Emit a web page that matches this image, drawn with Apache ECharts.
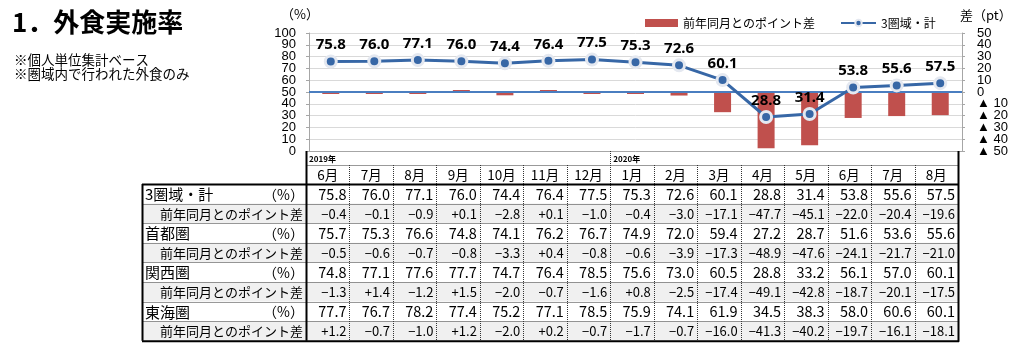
<!DOCTYPE html>
<html>
<head>
<meta charset="utf-8">
<script src="https://cdn.jsdelivr.net/npm/echarts@6/dist/echarts.min.js"></script>
<style>
  html, body { margin: 0; padding: 0; background: #fff; }
  #chart { width: 1024px; height: 350px; }
</style>
</head>
<body>
<div id="chart"></div>
<script>
// Month categories (June 2019 – August 2020)
const months = ['6月','7月','8月','9月','10月','11月','12月','1月','2月','3月','4月','5月','6月','7月','8月'];
const yearMarks = [{ index: 0, text: '2019年' }, { index: 7, text: '2020年' }];

// 3 regions total: dining-out rate (%) and change vs same month last year (pt)
const total     = [75.8, 76.0, 77.1, 76.0, 74.4, 76.4, 77.5, 75.3, 72.6, 60.1, 28.8, 31.4, 53.8, 55.6, 57.5];
const totalDiff = [-0.4, -0.1, -0.9, 0.1, -2.8, 0.1, -1.0, -0.4, -3.0, -17.1, -47.7, -45.1, -22.0, -20.4, -19.6];

// Regional breakdown
const shutoken     = [75.7, 75.3, 76.6, 74.8, 74.1, 76.2, 76.7, 74.9, 72.0, 59.4, 27.2, 28.7, 51.6, 53.6, 55.6];
const shutokenDiff = [-0.5, -0.6, -0.7, -0.8, -3.3, 0.4, -0.8, -0.6, -3.9, -17.3, -48.9, -47.6, -24.1, -21.7, -21.0];
const kansai       = [74.8, 77.1, 77.6, 77.7, 74.7, 76.4, 78.5, 75.6, 73.0, 60.5, 28.8, 33.2, 56.1, 57.0, 60.1];
const kansaiDiff   = [-1.3, 1.4, -1.2, 1.5, -2.0, -0.7, -1.6, 0.8, -2.5, -17.4, -49.1, -42.8, -18.7, -20.1, -17.5];
const tokai        = [77.7, 76.7, 78.2, 77.4, 75.2, 77.1, 78.5, 75.9, 74.1, 61.9, 34.5, 38.3, 58.0, 60.6, 60.1];
const tokaiDiff    = [1.2, -0.7, -1.0, 1.2, -2.0, 0.2, -0.7, -1.7, -0.7, -16.0, -41.3, -40.2, -19.7, -16.1, -18.1];

const regionNames = ['3圏域・計', '首都圏', '関西圏', '東海圏'];
const regionRates = [total, shutoken, kansai, tokai];
const regionDiffs = [totalDiff, shutokenDiff, kansaiDiff, tokaiDiff];
const diffLabel = '前年同月とのポイント差';

// Axis tick values
const leftTickValues  = [0, 10, 20, 30, 40, 50, 60, 70, 80, 90, 100];
const rightTickValues = [-50, -40, -30, -20, -10, 0, 10, 20, 30, 40, 50];

const JP = '"Noto Sans CJK JP", "Noto Sans", sans-serif';
const LAT = '"Liberation Sans", Arial, sans-serif';
const BAR_COLOR = '#C0504D';
const LINE_COLOR = '#3767A6';

const chart = echarts.init(document.getElementById('chart'), null, { renderer: 'canvas' });

// ---- table beneath the plot ----
const T = { x0: 142, xl: 306, x1: 958, yearTop: 151, monthTop: 165, dataTop: 184, rowH: 19.6 };
const CW = (T.x1 - T.xl) / months.length;

function txt(x, y, text, opt) {
  return { type: 'text', silent: true, z: 20,
    style: Object.assign({ x, y, text, fill: '#000', fontSize: 13, fontFamily: JP,
      align: 'left', verticalAlign: 'middle' }, opt || {}) };
}
function ln(x1, y1, x2, y2, w, dashed, color) {
  return { type: 'line', silent: true, z: dashed ? 15 : 18,
    shape: { x1, y1, x2, y2 },
    style: { stroke: color || '#000', lineWidth: w, lineDash: dashed ? [1, 1] : null } };
}
function fmtRate(v) { return v.toFixed(1); }
function fmtDiff(v) { return (v > 0 ? '+' : v < 0 ? '−' : '') + Math.abs(v).toFixed(1); }
function fmtRight(v) { return v < 0 ? '▲ ' + (-v) : String(v); }

function buildTable() {
  const els = [];
  const nRows = regionNames.length * 2;
  const bottom = T.dataTop + nRows * T.rowH;

  // shaded rows for year-on-year differences
  for (let r = 0; r < regionNames.length; r++) {
    const y = T.dataTop + (2 * r + 1) * T.rowH;
    els.push({ type: 'rect', silent: true, z: 5,
      shape: { x: T.x0, y: y, width: T.x1 - T.x0, height: T.rowH },
      style: { fill: '#F0F0F0' } });
  }

  // year row and month header
  yearMarks.forEach(m => {
    els.push(txt(T.xl + m.index * CW + 3, T.yearTop + 7.5, m.text,
      { fontSize: 8, fontWeight: 'bold', fontFamily: JP }));
  });
  months.forEach((m, i) => {
    els.push(txt(T.xl + (i + 0.5) * CW, (T.monthTop + T.dataTop) / 2 + 0.5, m,
      { align: 'center', fontSize: 13.5 }));
  });

  // body rows
  for (let r = 0; r < regionNames.length; r++) {
    const yMain = T.dataTop + 2 * r * T.rowH + T.rowH / 2 + 0.5;
    const yDiff = yMain + T.rowH;
    els.push(txt(T.x0 + 3, yMain, regionNames[r], { fontSize: 15 }));
    els.push(txt(T.xl - 2, yMain, '（%）', { fontSize: 14, align: 'right' }));
    els.push(txt(T.xl - 3, yDiff, diffLabel, { fontSize: 13, align: 'right' }));
    for (let i = 0; i < months.length; i++) {
      const xr = T.xl + (i + 1) * CW - 3;
      els.push(txt(xr, yMain, fmtRate(regionRates[r][i]), { fontSize: 14.5, align: 'right' }));
      els.push(txt(xr, yDiff, fmtDiff(regionDiffs[r][i]), { fontSize: 13, align: 'right' }));
    }
  }

  // grid lines
  const X0 = T.x0 + 0.5, XL = T.xl + 0.5, X1 = T.x1 + 0.5;
  els.push(ln(XL, T.monthTop + 0.5, X1, T.monthTop + 0.5, 1, true, '#333'));
  for (let k = 1; k < nRows; k++) {
    const y = Math.round(T.dataTop + k * T.rowH) + 0.5;
    els.push(ln(X0, y, X1, y, 1, true, '#333'));
  }
  for (let i = 1; i < months.length; i++) {
    const x = Math.round(T.xl + i * CW) + 0.5;
    const isYear = yearMarks.some(m => m.index === i);
    els.push(ln(x, isYear ? T.yearTop : T.monthTop, x, bottom, 1, true, '#333'));
  }
  els.push(ln(T.x0, T.dataTop + 0.5, T.x1 + 1, T.dataTop + 0.5, 2, false));
  els.push(ln(X0, T.dataTop, X0, bottom, 2, false));
  els.push(ln(XL, T.yearTop, XL, bottom, 2, false));
  els.push(ln(X1, T.yearTop, X1, bottom + 1, 2, false));
  els.push(ln(T.x0, bottom + 0.5, T.x1 + 1, bottom + 0.5, 2, false));
  return els;
}

const headerEls = [
  txt(12, 22, '1．外食実施率', { fontSize: 26, fontWeight: 'bold' }),
  txt(14, 60, '※個人単位集計ベース', { fontSize: 13.5 }),
  txt(14, 74, '※圏域内で行われた外食のみ', { fontSize: 13.5 }),
  txt(281, 14, '（%）', { fontSize: 13 }),
  txt(960, 15, '差（pt）', { fontSize: 13 })
];

const option = {
  animation: false,
  backgroundColor: '#fff',
  grid: { left: 309, right: 62, top: 33, bottom: 199, containLabel: false },
  legend: [
    { left: 640, top: 12, itemWidth: 33, itemHeight: 8, itemGap: 0,
      textStyle: { fontSize: 12, fontFamily: JP, color: '#000' },
      data: [{ name: diffLabel, icon: 'rect' }] },
    { left: 835, top: 12, itemWidth: 35, itemHeight: 8,
      textStyle: { fontSize: 12, fontFamily: JP, color: '#000' },
      data: [{ name: '3圏域・計' }] }
  ],
  xAxis: {
    type: 'category', data: months,
    axisLabel: { show: false }, axisTick: { show: false },
    axisLine: { lineStyle: { color: '#A6A6A6', width: 1 } }
  },
  yAxis: [
    { type: 'value', min: leftTickValues[0], max: leftTickValues[leftTickValues.length - 1],
      interval: leftTickValues[1] - leftTickValues[0],
      axisLine: { show: true, lineStyle: { color: '#A6A6A6' } },
      axisTick: { show: true, length: 3, lineStyle: { color: '#A6A6A6' } },
      splitLine: { lineStyle: { color: '#D9D9D9' } },
      axisLabel: { show: false } },
    { type: 'value', min: rightTickValues[0], max: rightTickValues[rightTickValues.length - 1],
      interval: rightTickValues[1] - rightTickValues[0],
      position: 'right',
      axisLine: { show: true, lineStyle: { color: '#A6A6A6' } },
      axisTick: { show: true, length: 3, lineStyle: { color: '#A6A6A6' } },
      splitLine: { show: false },
      axisLabel: { show: false } }
  ],
  series: [
    { name: diffLabel, type: 'bar', yAxisIndex: 1, data: totalDiff,
      barWidth: 17, barMinHeight: 2, z: 2,
      itemStyle: { color: BAR_COLOR },
      markLine: { silent: true, symbol: 'none', z: 3,
        label: { show: false },
        lineStyle: { color: '#4A7EC0', width: 2, type: 'solid' },
        data: [{ yAxis: 0 }] } },
    { name: '3圏域・計', type: 'line', yAxisIndex: 0, data: total, z: 5,
      symbol: 'circle', symbolSize: 11,
      lineStyle: { color: LINE_COLOR, width: 3 },
      itemStyle: { color: LINE_COLOR, borderColor: '#E4E8F0', borderWidth: 3 },
      label: { show: true, position: 'top', distance: 2,
        fontSize: 15, fontWeight: 'bold', fontFamily: '"Noto Sans", sans-serif', color: '#000',
        formatter: p => fmtRate(p.value) } }
  ],
  graphic: { elements: headerEls.concat(buildTable()) }
};

chart.setOption(option);

// Tick labels are placed through the axes' own scales; the axis is too short
// for the built-in labeller to keep every value without thinning them out.
const gridRect = chart.getModel().getComponent('grid', 0).coordinateSystem.getRect();
const tickEls = [];
leftTickValues.forEach(v => {
  const y = chart.convertToPixel({ yAxisIndex: 0 }, v);
  tickEls.push(txt(gridRect.x - 13, y, String(v), { fontSize: 13, fontFamily: LAT, align: 'right' }));
});
rightTickValues.forEach(v => {
  const y = chart.convertToPixel({ yAxisIndex: 1 }, v);
  tickEls.push(txt(gridRect.x + gridRect.width + 15, y, fmtRight(v), { fontSize: 13, fontFamily: LAT }));
});
chart.setOption({ graphic: { elements: headerEls.concat(buildTable(), tickEls) } }, { replaceMerge: ['graphic'] });
</script>
</body>
</html>
